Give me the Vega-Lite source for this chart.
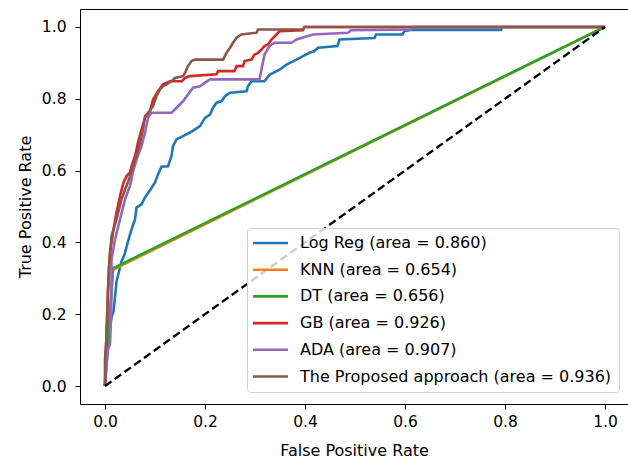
{
  "$schema": "https://vega.github.io/schema/vega-lite/v6.json",
  "width": 548,
  "height": 395,
  "autosize": {"type": "none"},
  "padding": {"left": 80, "top": 9, "right": 0, "bottom": 59},
  "config": {
    "font": "DejaVu Sans",
    "view": {"stroke": null},
    "axis": {
      "domainColor": "#000000", "domainWidth": 1, "tickColor": "#000000", "tickSize": 5,
      "labelColor": "#000000", "titleColor": "#000000", "labelFontSize": 15.5, "titleFontSize": 16,
      "titleFontWeight": "normal", "grid": false
    }
  },
  "datasets": {
    "roc": [
      {"m": "Log Reg (area = 0.860)", "i": 0, "x": 0, "y": 0},
      {"m": "Log Reg (area = 0.860)", "i": 1, "x": 0.002, "y": 0.10},
      {"m": "Log Reg (area = 0.860)", "i": 2, "x": 0.007, "y": 0.143},
      {"m": "Log Reg (area = 0.860)", "i": 3, "x": 0.010, "y": 0.166},
      {"m": "Log Reg (area = 0.860)", "i": 4, "x": 0.013, "y": 0.191},
      {"m": "Log Reg (area = 0.860)", "i": 5, "x": 0.017, "y": 0.208},
      {"m": "Log Reg (area = 0.860)", "i": 6, "x": 0.019, "y": 0.235},
      {"m": "Log Reg (area = 0.860)", "i": 7, "x": 0.021, "y": 0.263},
      {"m": "Log Reg (area = 0.860)", "i": 8, "x": 0.023, "y": 0.291},
      {"m": "Log Reg (area = 0.860)", "i": 9, "x": 0.028, "y": 0.319},
      {"m": "Log Reg (area = 0.860)", "i": 10, "x": 0.033, "y": 0.347},
      {"m": "Log Reg (area = 0.860)", "i": 11, "x": 0.039, "y": 0.366},
      {"m": "Log Reg (area = 0.860)", "i": 12, "x": 0.047, "y": 0.408},
      {"m": "Log Reg (area = 0.860)", "i": 13, "x": 0.053, "y": 0.436},
      {"m": "Log Reg (area = 0.860)", "i": 14, "x": 0.060, "y": 0.464},
      {"m": "Log Reg (area = 0.860)", "i": 15, "x": 0.063, "y": 0.497},
      {"m": "Log Reg (area = 0.860)", "i": 16, "x": 0.073, "y": 0.506},
      {"m": "Log Reg (area = 0.860)", "i": 17, "x": 0.080, "y": 0.525},
      {"m": "Log Reg (area = 0.860)", "i": 18, "x": 0.090, "y": 0.545},
      {"m": "Log Reg (area = 0.860)", "i": 19, "x": 0.100, "y": 0.567},
      {"m": "Log Reg (area = 0.860)", "i": 20, "x": 0.106, "y": 0.589},
      {"m": "Log Reg (area = 0.860)", "i": 21, "x": 0.113, "y": 0.611},
      {"m": "Log Reg (area = 0.860)", "i": 22, "x": 0.126, "y": 0.612},
      {"m": "Log Reg (area = 0.860)", "i": 23, "x": 0.133, "y": 0.640},
      {"m": "Log Reg (area = 0.860)", "i": 24, "x": 0.136, "y": 0.668},
      {"m": "Log Reg (area = 0.860)", "i": 25, "x": 0.143, "y": 0.687},
      {"m": "Log Reg (area = 0.860)", "i": 26, "x": 0.156, "y": 0.696},
      {"m": "Log Reg (area = 0.860)", "i": 27, "x": 0.170, "y": 0.706},
      {"m": "Log Reg (area = 0.860)", "i": 28, "x": 0.180, "y": 0.715},
      {"m": "Log Reg (area = 0.860)", "i": 29, "x": 0.190, "y": 0.724},
      {"m": "Log Reg (area = 0.860)", "i": 30, "x": 0.200, "y": 0.747},
      {"m": "Log Reg (area = 0.860)", "i": 31, "x": 0.210, "y": 0.756},
      {"m": "Log Reg (area = 0.860)", "i": 32, "x": 0.216, "y": 0.775},
      {"m": "Log Reg (area = 0.860)", "i": 33, "x": 0.223, "y": 0.789},
      {"m": "Log Reg (area = 0.860)", "i": 34, "x": 0.233, "y": 0.793},
      {"m": "Log Reg (area = 0.860)", "i": 35, "x": 0.240, "y": 0.807},
      {"m": "Log Reg (area = 0.860)", "i": 36, "x": 0.250, "y": 0.817},
      {"m": "Log Reg (area = 0.860)", "i": 37, "x": 0.283, "y": 0.821},
      {"m": "Log Reg (area = 0.860)", "i": 38, "x": 0.286, "y": 0.835},
      {"m": "Log Reg (area = 0.860)", "i": 39, "x": 0.293, "y": 0.849},
      {"m": "Log Reg (area = 0.860)", "i": 40, "x": 0.319, "y": 0.849},
      {"m": "Log Reg (area = 0.860)", "i": 41, "x": 0.329, "y": 0.867},
      {"m": "Log Reg (area = 0.860)", "i": 42, "x": 0.349, "y": 0.881},
      {"m": "Log Reg (area = 0.860)", "i": 43, "x": 0.363, "y": 0.895},
      {"m": "Log Reg (area = 0.860)", "i": 44, "x": 0.383, "y": 0.909},
      {"m": "Log Reg (area = 0.860)", "i": 45, "x": 0.396, "y": 0.919},
      {"m": "Log Reg (area = 0.860)", "i": 46, "x": 0.409, "y": 0.928},
      {"m": "Log Reg (area = 0.860)", "i": 47, "x": 0.419, "y": 0.933},
      {"m": "Log Reg (area = 0.860)", "i": 48, "x": 0.426, "y": 0.942},
      {"m": "Log Reg (area = 0.860)", "i": 49, "x": 0.465, "y": 0.947},
      {"m": "Log Reg (area = 0.860)", "i": 50, "x": 0.469, "y": 0.965},
      {"m": "Log Reg (area = 0.860)", "i": 51, "x": 0.539, "y": 0.969},
      {"m": "Log Reg (area = 0.860)", "i": 52, "x": 0.542, "y": 0.979},
      {"m": "Log Reg (area = 0.860)", "i": 53, "x": 0.595, "y": 0.979},
      {"m": "Log Reg (area = 0.860)", "i": 54, "x": 0.599, "y": 0.989},
      {"m": "Log Reg (area = 0.860)", "i": 55, "x": 0.615, "y": 0.992},
      {"m": "Log Reg (area = 0.860)", "i": 56, "x": 0.792, "y": 0.992},
      {"m": "Log Reg (area = 0.860)", "i": 57, "x": 0.794, "y": 1.0},
      {"m": "Log Reg (area = 0.860)", "i": 58, "x": 1.0, "y": 1.0},

      {"m": "KNN (area = 0.654)", "i": 0, "x": 0, "y": 0},
      {"m": "KNN (area = 0.654)", "i": 1, "x": 0.016, "y": 0.324},
      {"m": "KNN (area = 0.654)", "i": 2, "x": 1.0, "y": 1.0},

      {"m": "DT (area = 0.656)", "i": 0, "x": 0, "y": 0},
      {"m": "DT (area = 0.656)", "i": 1, "x": 0.016, "y": 0.328},
      {"m": "DT (area = 0.656)", "i": 2, "x": 1.0, "y": 1.0},

      {"m": "GB (area = 0.926)", "i": 0, "x": 0, "y": 0},
      {"m": "GB (area = 0.926)", "i": 1, "x": 0.001, "y": 0.046},
      {"m": "GB (area = 0.926)", "i": 2, "x": 0.002, "y": 0.102},
      {"m": "GB (area = 0.926)", "i": 3, "x": 0.004, "y": 0.185},
      {"m": "GB (area = 0.926)", "i": 4, "x": 0.006, "y": 0.269},
      {"m": "GB (area = 0.926)", "i": 5, "x": 0.008, "y": 0.330},
      {"m": "GB (area = 0.926)", "i": 6, "x": 0.010, "y": 0.372},
      {"m": "GB (area = 0.926)", "i": 7, "x": 0.017, "y": 0.436},
      {"m": "GB (area = 0.926)", "i": 8, "x": 0.023, "y": 0.483},
      {"m": "GB (area = 0.926)", "i": 9, "x": 0.030, "y": 0.529},
      {"m": "GB (area = 0.926)", "i": 10, "x": 0.037, "y": 0.567},
      {"m": "GB (area = 0.926)", "i": 11, "x": 0.043, "y": 0.584},
      {"m": "GB (area = 0.926)", "i": 12, "x": 0.050, "y": 0.595},
      {"m": "GB (area = 0.926)", "i": 13, "x": 0.053, "y": 0.612},
      {"m": "GB (area = 0.926)", "i": 14, "x": 0.060, "y": 0.640},
      {"m": "GB (area = 0.926)", "i": 15, "x": 0.066, "y": 0.678},
      {"m": "GB (area = 0.926)", "i": 16, "x": 0.073, "y": 0.714},
      {"m": "GB (area = 0.926)", "i": 17, "x": 0.080, "y": 0.747},
      {"m": "GB (area = 0.926)", "i": 18, "x": 0.090, "y": 0.765},
      {"m": "GB (area = 0.926)", "i": 19, "x": 0.096, "y": 0.798},
      {"m": "GB (area = 0.926)", "i": 20, "x": 0.106, "y": 0.821},
      {"m": "GB (area = 0.926)", "i": 21, "x": 0.116, "y": 0.840},
      {"m": "GB (area = 0.926)", "i": 22, "x": 0.130, "y": 0.849},
      {"m": "GB (area = 0.926)", "i": 23, "x": 0.154, "y": 0.849},
      {"m": "GB (area = 0.926)", "i": 24, "x": 0.160, "y": 0.858},
      {"m": "GB (area = 0.926)", "i": 25, "x": 0.170, "y": 0.863},
      {"m": "GB (area = 0.926)", "i": 26, "x": 0.223, "y": 0.868},
      {"m": "GB (area = 0.926)", "i": 27, "x": 0.226, "y": 0.877},
      {"m": "GB (area = 0.926)", "i": 28, "x": 0.259, "y": 0.877},
      {"m": "GB (area = 0.926)", "i": 29, "x": 0.263, "y": 0.891},
      {"m": "GB (area = 0.926)", "i": 30, "x": 0.276, "y": 0.891},
      {"m": "GB (area = 0.926)", "i": 31, "x": 0.279, "y": 0.905},
      {"m": "GB (area = 0.926)", "i": 32, "x": 0.293, "y": 0.909},
      {"m": "GB (area = 0.926)", "i": 33, "x": 0.299, "y": 0.923},
      {"m": "GB (area = 0.926)", "i": 34, "x": 0.306, "y": 0.928},
      {"m": "GB (area = 0.926)", "i": 35, "x": 0.313, "y": 0.937},
      {"m": "GB (area = 0.926)", "i": 36, "x": 0.319, "y": 0.947},
      {"m": "GB (area = 0.926)", "i": 37, "x": 0.326, "y": 0.951},
      {"m": "GB (area = 0.926)", "i": 38, "x": 0.333, "y": 0.965},
      {"m": "GB (area = 0.926)", "i": 39, "x": 0.343, "y": 0.979},
      {"m": "GB (area = 0.926)", "i": 40, "x": 0.349, "y": 0.988},
      {"m": "GB (area = 0.926)", "i": 41, "x": 0.396, "y": 0.991},
      {"m": "GB (area = 0.926)", "i": 42, "x": 0.399, "y": 1.0},
      {"m": "GB (area = 0.926)", "i": 43, "x": 1.0, "y": 1.0},

      {"m": "ADA (area = 0.907)", "i": 0, "x": 0, "y": 0},
      {"m": "ADA (area = 0.907)", "i": 1, "x": 0.002, "y": 0.046},
      {"m": "ADA (area = 0.907)", "i": 2, "x": 0.006, "y": 0.102},
      {"m": "ADA (area = 0.907)", "i": 3, "x": 0.010, "y": 0.116},
      {"m": "ADA (area = 0.907)", "i": 4, "x": 0.012, "y": 0.185},
      {"m": "ADA (area = 0.907)", "i": 5, "x": 0.013, "y": 0.269},
      {"m": "ADA (area = 0.907)", "i": 6, "x": 0.013, "y": 0.352},
      {"m": "ADA (area = 0.907)", "i": 7, "x": 0.020, "y": 0.408},
      {"m": "ADA (area = 0.907)", "i": 8, "x": 0.030, "y": 0.464},
      {"m": "ADA (area = 0.907)", "i": 9, "x": 0.040, "y": 0.520},
      {"m": "ADA (area = 0.907)", "i": 10, "x": 0.050, "y": 0.557},
      {"m": "ADA (area = 0.907)", "i": 11, "x": 0.056, "y": 0.597},
      {"m": "ADA (area = 0.907)", "i": 12, "x": 0.063, "y": 0.630},
      {"m": "ADA (area = 0.907)", "i": 13, "x": 0.073, "y": 0.668},
      {"m": "ADA (area = 0.907)", "i": 14, "x": 0.080, "y": 0.705},
      {"m": "ADA (area = 0.907)", "i": 15, "x": 0.086, "y": 0.747},
      {"m": "ADA (area = 0.907)", "i": 16, "x": 0.093, "y": 0.761},
      {"m": "ADA (area = 0.907)", "i": 17, "x": 0.133, "y": 0.761},
      {"m": "ADA (area = 0.907)", "i": 18, "x": 0.143, "y": 0.775},
      {"m": "ADA (area = 0.907)", "i": 19, "x": 0.156, "y": 0.793},
      {"m": "ADA (area = 0.907)", "i": 20, "x": 0.166, "y": 0.812},
      {"m": "ADA (area = 0.907)", "i": 21, "x": 0.176, "y": 0.831},
      {"m": "ADA (area = 0.907)", "i": 22, "x": 0.190, "y": 0.835},
      {"m": "ADA (area = 0.907)", "i": 23, "x": 0.200, "y": 0.845},
      {"m": "ADA (area = 0.907)", "i": 24, "x": 0.210, "y": 0.854},
      {"m": "ADA (area = 0.907)", "i": 25, "x": 0.309, "y": 0.854},
      {"m": "ADA (area = 0.907)", "i": 26, "x": 0.313, "y": 0.882},
      {"m": "ADA (area = 0.907)", "i": 27, "x": 0.319, "y": 0.923},
      {"m": "ADA (area = 0.907)", "i": 28, "x": 0.329, "y": 0.947},
      {"m": "ADA (area = 0.907)", "i": 29, "x": 0.339, "y": 0.956},
      {"m": "ADA (area = 0.907)", "i": 30, "x": 0.373, "y": 0.956},
      {"m": "ADA (area = 0.907)", "i": 31, "x": 0.383, "y": 0.965},
      {"m": "ADA (area = 0.907)", "i": 32, "x": 0.416, "y": 0.979},
      {"m": "ADA (area = 0.907)", "i": 33, "x": 0.486, "y": 0.984},
      {"m": "ADA (area = 0.907)", "i": 34, "x": 0.492, "y": 0.991},
      {"m": "ADA (area = 0.907)", "i": 35, "x": 0.612, "y": 0.993},
      {"m": "ADA (area = 0.907)", "i": 36, "x": 0.615, "y": 1.0},
      {"m": "ADA (area = 0.907)", "i": 37, "x": 1.0, "y": 1.0},

      {"m": "The Proposed approach (area = 0.936)", "i": 0, "x": 0, "y": 0},
      {"m": "The Proposed approach (area = 0.936)", "i": 1, "x": 0, "y": 0.074},
      {"m": "The Proposed approach (area = 0.936)", "i": 2, "x": 0.002, "y": 0.116},
      {"m": "The Proposed approach (area = 0.936)", "i": 3, "x": 0.003, "y": 0.135},
      {"m": "The Proposed approach (area = 0.936)", "i": 4, "x": 0.005, "y": 0.227},
      {"m": "The Proposed approach (area = 0.936)", "i": 5, "x": 0.007, "y": 0.291},
      {"m": "The Proposed approach (area = 0.936)", "i": 6, "x": 0.008, "y": 0.330},
      {"m": "The Proposed approach (area = 0.936)", "i": 7, "x": 0.010, "y": 0.366},
      {"m": "The Proposed approach (area = 0.936)", "i": 8, "x": 0.013, "y": 0.417},
      {"m": "The Proposed approach (area = 0.936)", "i": 9, "x": 0.023, "y": 0.464},
      {"m": "The Proposed approach (area = 0.936)", "i": 10, "x": 0.033, "y": 0.520},
      {"m": "The Proposed approach (area = 0.936)", "i": 11, "x": 0.043, "y": 0.557},
      {"m": "The Proposed approach (area = 0.936)", "i": 12, "x": 0.050, "y": 0.584},
      {"m": "The Proposed approach (area = 0.936)", "i": 13, "x": 0.056, "y": 0.612},
      {"m": "The Proposed approach (area = 0.936)", "i": 14, "x": 0.063, "y": 0.640},
      {"m": "The Proposed approach (area = 0.936)", "i": 15, "x": 0.070, "y": 0.678},
      {"m": "The Proposed approach (area = 0.936)", "i": 16, "x": 0.076, "y": 0.714},
      {"m": "The Proposed approach (area = 0.936)", "i": 17, "x": 0.080, "y": 0.751},
      {"m": "The Proposed approach (area = 0.936)", "i": 18, "x": 0.086, "y": 0.761},
      {"m": "The Proposed approach (area = 0.936)", "i": 19, "x": 0.096, "y": 0.779},
      {"m": "The Proposed approach (area = 0.936)", "i": 20, "x": 0.103, "y": 0.807},
      {"m": "The Proposed approach (area = 0.936)", "i": 21, "x": 0.110, "y": 0.826},
      {"m": "The Proposed approach (area = 0.936)", "i": 22, "x": 0.116, "y": 0.835},
      {"m": "The Proposed approach (area = 0.936)", "i": 23, "x": 0.123, "y": 0.840},
      {"m": "The Proposed approach (area = 0.936)", "i": 24, "x": 0.133, "y": 0.849},
      {"m": "The Proposed approach (area = 0.936)", "i": 25, "x": 0.140, "y": 0.858},
      {"m": "The Proposed approach (area = 0.936)", "i": 26, "x": 0.156, "y": 0.863},
      {"m": "The Proposed approach (area = 0.936)", "i": 27, "x": 0.160, "y": 0.872},
      {"m": "The Proposed approach (area = 0.936)", "i": 28, "x": 0.166, "y": 0.891},
      {"m": "The Proposed approach (area = 0.936)", "i": 29, "x": 0.173, "y": 0.905},
      {"m": "The Proposed approach (area = 0.936)", "i": 30, "x": 0.180, "y": 0.909},
      {"m": "The Proposed approach (area = 0.936)", "i": 31, "x": 0.236, "y": 0.909},
      {"m": "The Proposed approach (area = 0.936)", "i": 32, "x": 0.243, "y": 0.928},
      {"m": "The Proposed approach (area = 0.936)", "i": 33, "x": 0.250, "y": 0.942},
      {"m": "The Proposed approach (area = 0.936)", "i": 34, "x": 0.256, "y": 0.956},
      {"m": "The Proposed approach (area = 0.936)", "i": 35, "x": 0.263, "y": 0.970},
      {"m": "The Proposed approach (area = 0.936)", "i": 36, "x": 0.273, "y": 0.979},
      {"m": "The Proposed approach (area = 0.936)", "i": 37, "x": 0.303, "y": 0.984},
      {"m": "The Proposed approach (area = 0.936)", "i": 38, "x": 0.306, "y": 0.993},
      {"m": "The Proposed approach (area = 0.936)", "i": 39, "x": 0.396, "y": 0.993},
      {"m": "The Proposed approach (area = 0.936)", "i": 40, "x": 0.399, "y": 1.0},
      {"m": "The Proposed approach (area = 0.936)", "i": 41, "x": 1.0, "y": 1.0}
    ],
    "diag": [
      {"x": 0, "y": 0},
      {"x": 1, "y": 1}
    ]
  },
  "layer": [
    {
      "data": {"name": "roc"},
      "mark": {"type": "line", "strokeWidth": 2.6},
      "encoding": {
        "x": {
          "field": "x", "type": "quantitative",
          "scale": {"domain": [-0.05, 1.046], "nice": false, "zero": false},
          "axis": {"values": [0, 0.2, 0.4, 0.6, 0.8, 1.0], "format": ".1f", "title": "False Positive Rate", "labelPadding": 5, "titlePadding": 13}
        },
        "y": {
          "field": "y", "type": "quantitative",
          "scale": {"domain": [-0.05, 1.05], "nice": false, "zero": false},
          "axis": {"values": [0, 0.2, 0.4, 0.6, 0.8, 1.0], "format": ".1f", "title": "True Positive Rate", "labelPadding": 9, "titlePadding": 8}
        },
        "color": {
          "field": "m", "type": "nominal",
          "scale": {
            "domain": ["Log Reg (area = 0.860)", "KNN (area = 0.654)", "DT (area = 0.656)", "GB (area = 0.926)", "ADA (area = 0.907)", "The Proposed approach (area = 0.936)"],
            "range": ["#1f77b4", "#ff7f0e", "#2ca02c", "#d62728", "#9467bd", "#8c564b"]
          },
          "legend": {
            "orient": "none", "legendX": 167, "legendY": 219, "title": null,
            "symbolType": "M-1.4,0H4", "symbolSize": 169, "symbolStrokeWidth": 2.6, "symbolFillColor": "transparent",
            "labelFontSize": 16, "labelLimit": 400, "labelColor": "#000000", "labelOffset": 30,
            "rowPadding": 10.7, "padding": 7, "strokeColor": "#d0d0d0", "fillColor": "rgba(255,255,255,0.8)", "cornerRadius": 3
          }
        },
        "order": {"field": "i", "type": "quantitative"}
      }
    },
    {
      "data": {"name": "diag"},
      "mark": {"type": "line", "color": "#000000", "strokeWidth": 2.4, "strokeDash": [8, 4]},
      "encoding": {
        "x": {"field": "x", "type": "quantitative", "axis": {"orient": "top", "labels": false, "ticks": false, "title": null, "domain": true}},
        "y": {"field": "y", "type": "quantitative"}
      }
    }
  ],
  "resolve": {"axis": {"x": "independent"}}
}
